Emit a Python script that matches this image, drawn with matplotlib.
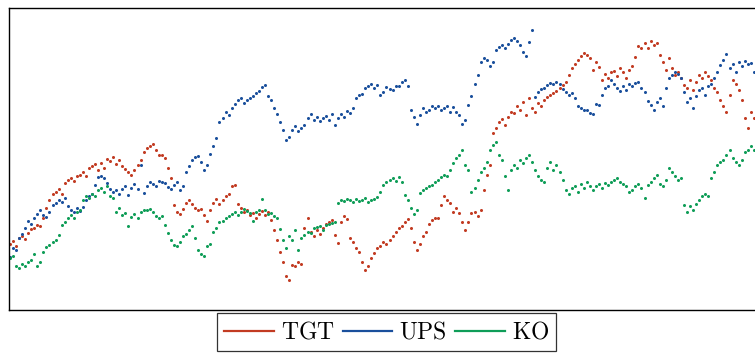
import numpy as np
import matplotlib
matplotlib.use("Agg")
import matplotlib.pyplot as plt

plt.rcParams["mathtext.fontset"] = "cm"

# readings per trading day (chart units, larger = lower on the chart; axis is inverted)
tgt = [
    244, 241, 246, 238, 236, 239, 233, 229, 228, 225,
    226, 218, 208, 200, 194, 192, 189, 194, 183, 180,
    178, 181, 176, 175, 172, 176, 168, 166, 164, 170,
    163, 168, 159, 161, 157, 164, 160, 166, 169, 172,
    175, 170, 165, 160, 152, 148, 146, 144, 150, 155,
    155, 158, 168, 178, 205, 212, 214, 209, 203, 200,
    204, 208, 210, 209, 215, 221, 210, 203, 199, 204,
    200, 196, 194, 186, 185, 204, 208, 212, 210, 215,
    213, 218, 214, 211, 215, 212, 220, 230, 240, 252,
    262, 276, 280, 265, 266, 262, 264, 228, 218, 232,
    236, 230, 234, 228, 224, 222, 220, 235, 243, 222,
    216, 219, 238, 242, 248, 252, 262, 270, 266, 258,
    253, 248, 246, 242, 244, 240, 236, 232, 228, 226,
    222, 219, 228, 242, 250, 244, 236, 232, 224, 220,
    218, 218, 205, 196, 200, 203, 212, 208, 213, 222,
    230, 222, 213, 212, 216, 210, 190, 175, 165, 133,
    128, 122, 119, 125, 117, 112, 113, 106, 110, 102,
    115, 98, 108, 112, 103, 106, 100, 97, 95, 93,
    91, 88, 85, 82, 75, 68, 64, 60, 56, 53,
    55, 58, 70, 62, 67, 80, 74, 78, 72, 71,
    76, 68, 72, 78, 70, 66, 57, 46, 48, 43,
    48, 41, 45, 43, 55, 62, 70, 58, 68, 75,
    72, 78, 85, 88, 80, 90, 82, 75, 78, 72,
    76, 80, 88, 92, 100, 106, 112, 95, 80, 84,
    90, 100, 118, 128, 112, 118, 108, 112, 115,
]

ups = [
    257, 248, 250, 238, 234, 228, 221, 224, 218, 214,
    210, 215, 217, 212, 205, 203, 200, 202, 198, 206,
    210, 212, 208, 211, 207, 200, 196, 194, 185, 177,
    176, 178, 183, 189, 192, 190, 194, 189, 186, 195,
    188, 184, 189, 165, 193, 186, 182, 184, 186, 181,
    182, 183, 187, 189, 185, 182, 190, 186, 172, 166,
    160, 157, 156, 162, 170, 165, 154, 146, 138, 122,
    118, 112, 115, 108, 104, 100, 98, 103, 100, 98,
    96, 93, 91, 87, 85, 96, 100, 108, 114, 122,
    130, 140, 137, 130, 126, 131, 128, 125, 118, 114,
    120, 117, 121, 118, 116, 120, 114, 125, 118, 114,
    117, 111, 113, 108, 98, 95, 94, 88, 86, 84,
    88, 85, 95, 92, 87, 89, 90, 86, 86, 82,
    80, 86, 110, 117, 124, 115, 108, 112, 110, 106,
    108, 106, 110, 108, 106, 112, 107, 112, 115, 124,
    120, 105, 96, 84, 75, 62, 58, 60, 66, 62,
    50, 47, 45, 48, 44, 40, 38, 41, 45, 52,
    56, 42, 30, 97, 92, 89, 88, 85, 83, 84,
    82, 84, 89, 92, 95, 93, 98, 106, 108, 110,
    110, 113, 114, 104, 105, 95, 88, 86, 80, 84,
    88, 91, 86, 90, 84, 86, 83, 82, 88, 92,
    101, 105, 110, 102, 98, 106, 88, 78, 75, 72,
    74, 78, 92, 102, 98, 108, 96, 90, 88, 95,
    86, 84, 78, 72, 65, 60, 54, 68, 64, 72,
    62, 66, 61, 64, 63, 72, 78, 88, 95,
]

ko = [
    258, 256, 266, 268, 264, 266, 262, 260, 254, 266,
    262, 252, 247, 245, 242, 240, 235, 225, 222, 218,
    215, 218, 212, 210, 200, 196, 198, 194, 196, 190,
    188, 192, 186, 196, 198, 212, 208, 215, 213, 226,
    217, 214, 218, 212, 210, 210, 209, 212, 216, 218,
    216, 225, 233, 240, 245, 246, 242, 236, 234, 230,
    226, 238, 250, 254, 256, 246, 244, 232, 228, 222,
    221, 218, 216, 214, 212, 215, 212, 209, 211, 213,
    221, 212, 210, 199, 210, 214, 213, 216, 218, 229,
    240, 248, 236, 240, 230, 250, 238, 235, 232, 233,
    228, 227, 226, 230, 225, 224, 223, 222, 203, 200,
    201, 199, 200, 202, 199, 201, 200, 198, 202, 200,
    199, 197, 192, 185, 182, 180, 178, 181, 177, 182,
    195, 200, 208, 214, 210, 193, 190, 188, 186, 185,
    182, 180, 177, 175, 176, 170, 163, 158, 155, 150,
    165, 170, 192, 188, 180, 172, 168, 162, 150, 145,
    142, 155, 160, 176, 190, 170, 165, 168, 160, 163,
    158, 155, 162, 170, 176, 180, 182, 168, 162, 170,
    165, 172, 180, 190, 194, 188, 186, 192, 184, 188,
    182, 186, 190, 186, 184, 188, 183, 185, 182, 180,
    178, 182, 184, 186, 192, 190, 186, 184, 188, 198,
    185, 182, 178, 175, 184, 186, 180, 168, 172, 176,
    180, 178, 205, 212, 206, 210, 204, 200, 196, 194,
    196, 178, 172, 165, 162, 160, 155, 150, 158, 162,
    165, 160, 152, 150, 146, 150, 144, 148, 146,
]

names = ["TGT", "UPS", "KO"]
colors = ["#c23b22", "#1a4f9c", "#0f9d58"]

fig = plt.figure(figsize=(7.55, 3.53), dpi=100)
ax = fig.add_axes([9 / 755, 43 / 353, 760 / 755, 302 / 353])

for series, name, col in zip([tgt, ups, ko], names, colors):
    days = np.arange(len(series))
    ax.plot(days, series, linestyle="none", marker="o", markersize=2.2,
            markeredgewidth=0, color=col, label=rf"$\mathrm{{{name}}}$")

ax.set_xlim(-1 / 3, 250)
ax.set_ylim(310, 8)
ax.set_xticks([])
ax.set_yticks([])
for sp in ax.spines.values():
    sp.set_linewidth(1.0)
    sp.set_color("black")

handles = [plt.Line2D([], [], color=c, lw=1.6) for c in colors]
labels = [rf"$\mathrm{{{n}}}$" for n in names]
leg = fig.legend(handles, labels, loc="upper center", bbox_to_anchor=(0.512, 0.114),
                 ncol=3, fontsize=17, frameon=True, fancybox=False,
                 handlelength=2.1, handletextpad=0.3, columnspacing=0.35,
                 borderpad=0.3, borderaxespad=0)
leg.get_frame().set_edgecolor("black")
leg.get_frame().set_linewidth(0.9)

fig.savefig("out.png", dpi=100)
